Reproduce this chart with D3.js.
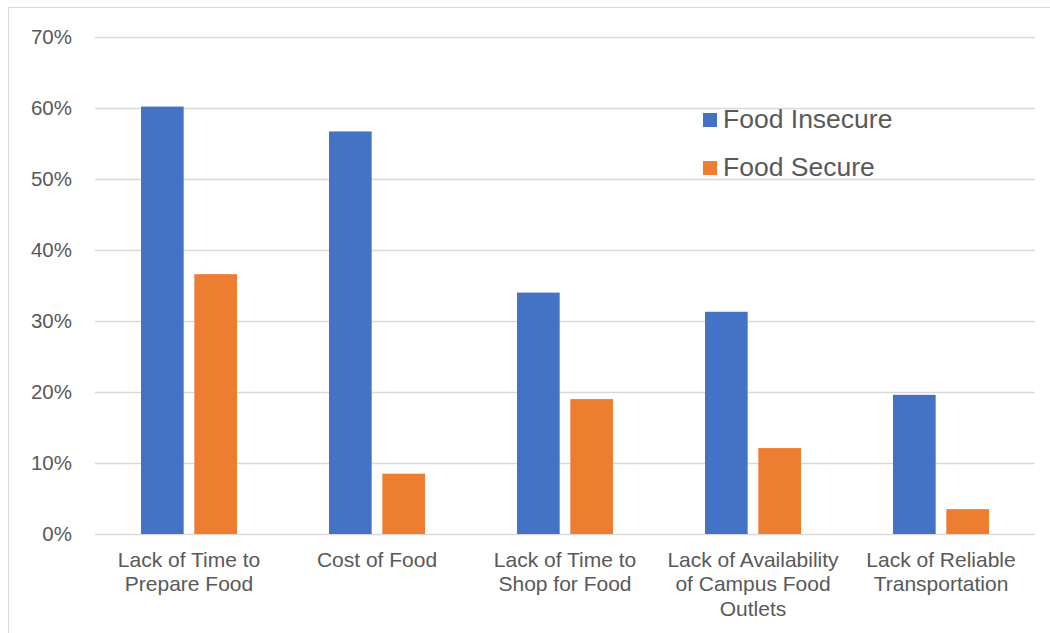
<!DOCTYPE html>
<html>
<head>
<meta charset="utf-8">
<script src="https://cdn.jsdelivr.net/npm/d3@7"></script>
<style>
  body { margin: 0; background: #fff; }
  svg { display: block; font-family: "Liberation Sans", Arial, sans-serif; }
</style>
</head>
<body>
<div id="chart"></div>
<script>
const categories = [
    ['Lack of Time to', 'Prepare Food'],
    ['Cost of Food'],
    ['Lack of Time to', 'Shop for Food'],
    ['Lack of Availability', 'of Campus Food', 'Outlets'],
    ['Lack of Reliable', 'Transportation']
]
const seriesNames = ['Food Insecure', 'Food Secure']
const insecure = [0.602, 0.567, 0.340, 0.313, 0.196]
const secure = [0.366, 0.085, 0.190, 0.121, 0.035]
const yTicks = [0, 0.1, 0.2, 0.3, 0.4, 0.5, 0.6, 0.7]
const colors = ['#4472C4', '#ED7D31']

const W = 1050, H = 633
const plotLeft = 95, plotRight = 1035, plotTop = 37, plotBottom = 534

const svg = d3.select('div#chart')
    .append('svg')
    .attr('width', W)
    .attr('height', H)

// chart frame
svg.append('rect')
    .attr('x', 8.5).attr('y', 7.5)
    .attr('width', W + 10).attr('height', H + 10)
    .attr('fill', 'none')
    .attr('stroke', '#d9d9d9')

const y = d3.scaleLinear().domain([0, 0.7]).range([plotBottom, plotTop])
const x0 = d3.scaleBand().domain(d3.range(categories.length)).range([plotLeft, plotRight]).paddingInner(0).paddingOuter(0)
const x1 = d3.scaleBand().domain([0, 1]).range([46, 188 - 46]).paddingInner(0.2)

// gridlines
svg.selectAll('line.grid')
    .data(yTicks)
    .enter()
    .append('line')
    .attr('x1', plotLeft).attr('x2', plotRight)
    .attr('y1', d => Math.round(y(d)) + 0.5)
    .attr('y2', d => Math.round(y(d)) + 0.5)
    .attr('stroke', '#d9d9d9')
    .attr('stroke-width', 1.3)

// y axis labels
const yAxis = d3.axisLeft(y).tickValues(yTicks).tickFormat(d3.format('.0%')).tickSize(0).tickPadding(0)
const ga = svg.append('g').attr('transform', `translate(${plotLeft - 23},0)`).call(yAxis)
ga.select('.domain').remove()
ga.selectAll('text')
    .style('font-size', '20.5px')
    .style('fill', '#595959')
    .style('font-family', '"Liberation Sans", Arial, sans-serif')

// bars
const rows = categories.map((c, i) => [insecure[i], secure[i]])
const groups = svg.selectAll('g.cat')
    .data(rows)
    .enter()
    .append('g')
    .attr('transform', (d, i) => `translate(${x0(i)},0)`)

groups.selectAll('rect')
    .data(d => d)
    .enter()
    .append('rect')
    .attr('x', (d, j) => x1(j))
    .attr('width', x1.bandwidth())
    .attr('y', d => y(d))
    .attr('height', d => y(0) - y(d))
    .style('fill', (d, j) => colors[j])

// category labels
svg.selectAll('text.cat')
    .data(categories)
    .enter()
    .append('text')
    .attr('class', 'cat')
    .attr('text-anchor', 'middle')
    .style('font-size', '21px')
    .style('fill', '#595959')
    .each(function (d, i) {
        d3.select(this).selectAll('tspan')
            .data(d)
            .enter()
            .append('tspan')
            .attr('x', x0(i) + x0.bandwidth() / 2)
            .attr('y', (t, k) => 567 + k * 24.3)
            .text(t => t)
    })

// legend
const legend = svg.selectAll('g.legend')
    .data(seriesNames)
    .enter()
    .append('g')
    .attr('transform', (d, i) => `translate(703,${113 + i * 48})`)

legend.append('rect')
    .attr('width', 14).attr('height', 14)
    .style('fill', (d, i) => colors[i])

legend.append('text')
    .attr('x', 20)
    .attr('y', 15)
    .text(d => d)
    .style('font-size', '26.5px')
    .style('fill', '#595959')
</script>
</body>
</html>
